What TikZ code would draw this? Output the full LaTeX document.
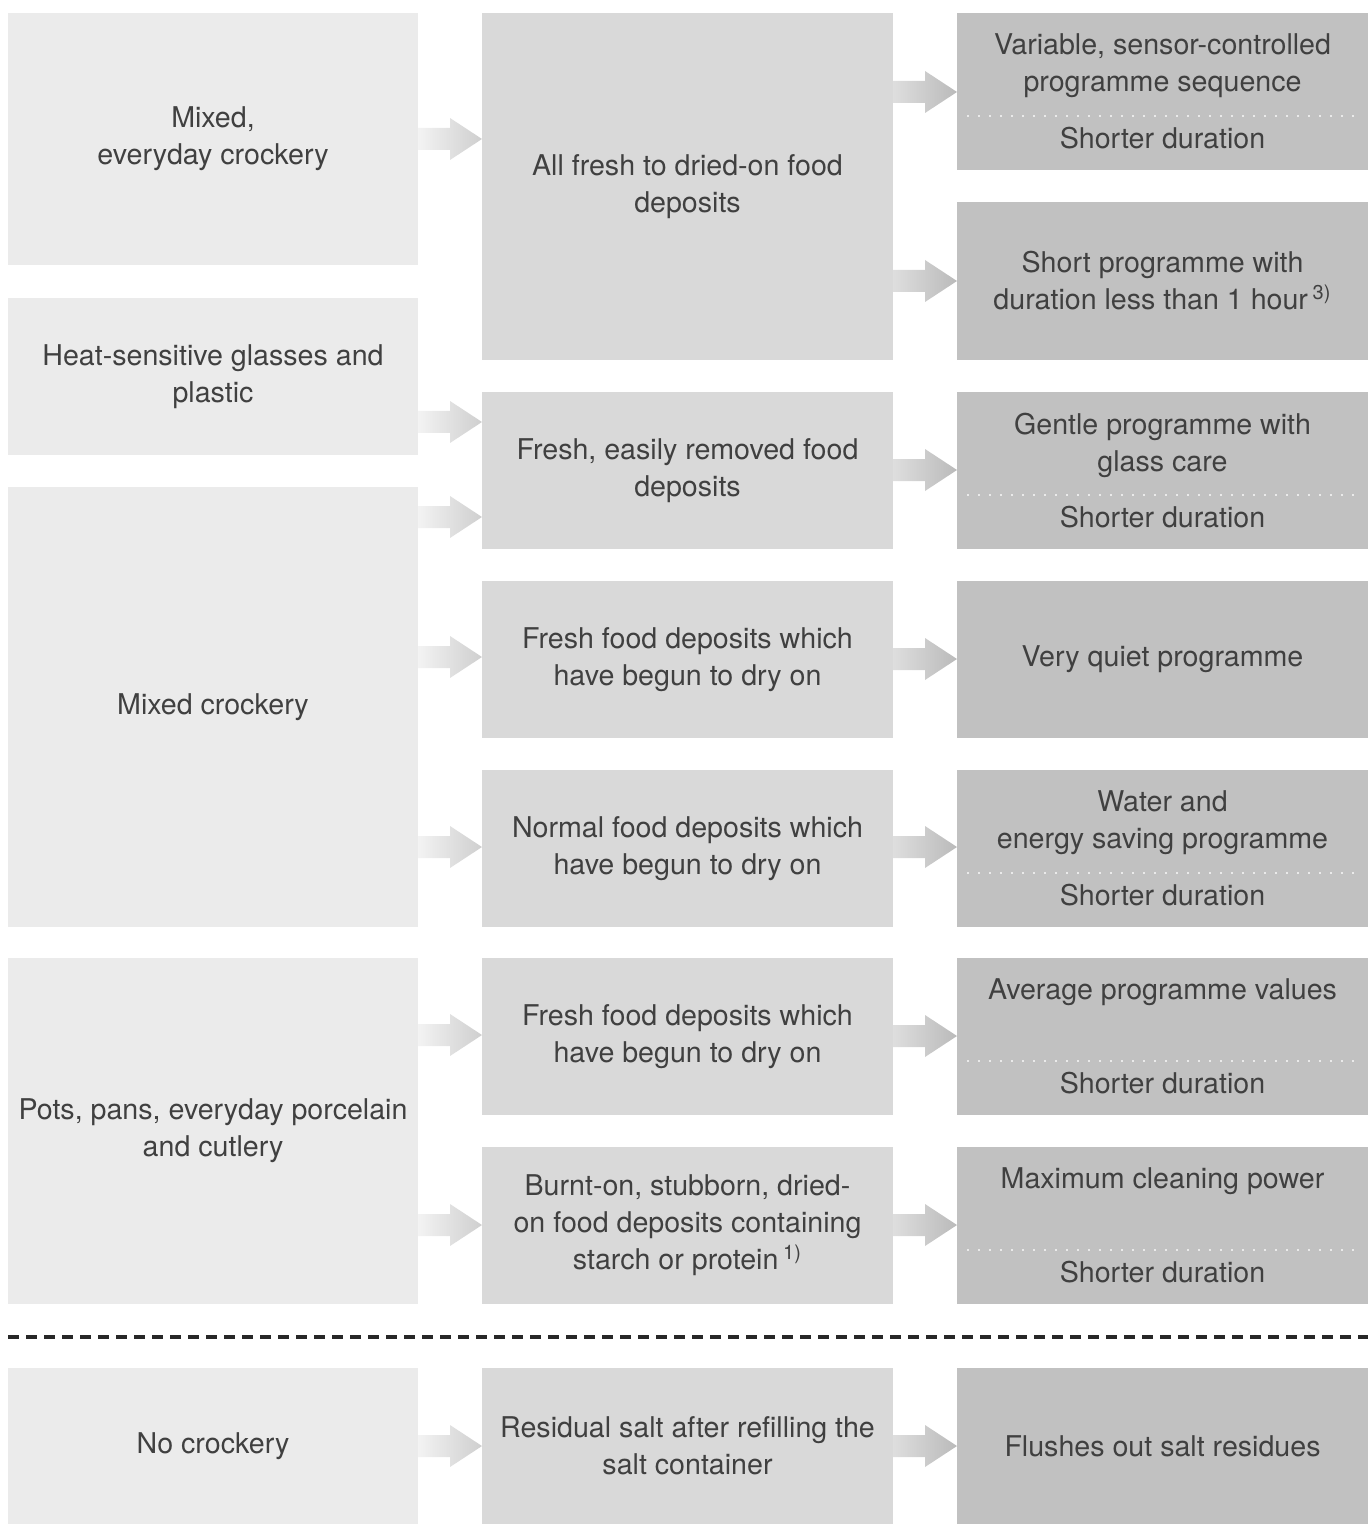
\documentclass[tikz,border=0pt]{standalone}
\usepackage{fontspec}
\setmainfont{TeX Gyre Heros}
\usepackage{tikz}
\usetikzlibrary{calc}
\definecolor{boxone}{RGB}{235,235,235}
\definecolor{boxtwo}{RGB}{217,217,217}
\definecolor{boxthree}{RGB}{193,193,193}
\definecolor{txtgrey}{RGB}{64,64,64}
\definecolor{dotgrey}{RGB}{234,234,234}
\definecolor{sepdark}{RGB}{40,40,40}
\tikzset{
  box/.style={rectangle, anchor=north west, minimum width=205.5pt,
    inner sep=0pt, outer sep=0pt, align=center, text=txtgrey,
    font=\fontsize{14.3}{18.5}\selectfont},
  boxa/.style={box, fill=boxone, minimum width=205pt},
  boxb/.style={box, fill=boxtwo},
  boxc/.style={box, fill=boxthree},
  tall/.style={minimum height=#1*0.5pt},
  txt/.style={align=center, text=txtgrey, inner sep=0pt,
    font=\fontsize{14.3}{18.5}\selectfont},
  sepdots/.style={dotgrey, line width=1pt, dash pattern=on 1.2pt off 4.3pt},
  arrowa/.style={left color=boxone!60!white, right color=black!19},
  arrowb/.style={left color=black!13, right color=black!27},
  divider/.style={sepdark, line width=1.7pt, dash pattern=on 5.5pt off 3.5pt}
}
% block arrow: source node, target node, height, style
\newcommand\blockarrow[4]{%
  \coordinate (s) at (#1.east |- 0,#3);
  \coordinate (t) at (#2.west |- 0,#3);
  \path[#4] ($(s)+(0,-11)$) -- ($(t)+(-32,-11)$) -- ($(t)+(-32,-21)$) -- (t)
    -- ($(t)+(-32,21)$) -- ($(t)+(-32,11)$) -- ($(s)+(0,11)$) -- cycle;}
\begin{document}
\begin{tikzpicture}[x=0.5pt, y=-0.5pt]
    \useasboundingbox (0,0) rectangle (1371,1529);

    % Crockery
    \node[boxa, tall=252] (mixa) at (8,13) {Mixed,\\everyday crockery};
    \node[boxa, tall=157] (heat) at (8,298) {Heat-sensitive glasses and\\plastic};
    \node[boxa, tall=440] (mixc) at (8,487) {Mixed crockery};
    \node[boxa, tall=346] (pots) at (8,958) {Pots, pans, everyday porcelain\\and cutlery};
    \node[boxa, tall=156] (none) at (8,1368) {No crockery};

    % Food deposits
    \node[boxb, tall=347] (fresha) at (482,13) {All fresh to dried-on food\\deposits};
    \node[boxb, tall=157] (easy) at (482,392) {Fresh, easily removed food\\deposits};
    \node[boxb, tall=157] (begun) at (482,581) {Fresh food deposits which\\have begun to dry on};
    \node[boxb, tall=157] (normal) at (482,770) {Normal food deposits which\\have begun to dry on};
    \node[boxb, tall=157] (begunb) at (482,958) {Fresh food deposits which\\have begun to dry on};
    \node[boxb, tall=157] (burnt) at (482,1147) {Burnt-on, stubborn, dried-\\on food deposits containing\\starch or protein\,\textsuperscript{1)}};
    \node[boxb, tall=156] (salt) at (482,1368) {Residual salt after refilling the\\salt container};

    % Programmes
    \node[boxc, tall=157] (sensor) at (957,13) {};
    \node[boxc, tall=158] (short) at (957,202) {Short programme with\\duration less than 1 hour\,\textsuperscript{3)}};
    \node[boxc, tall=157] (gentle) at (957,392) {};
    \node[boxc, tall=157] (quiet) at (957,581) {Very quiet programme};
    \node[boxc, tall=157] (saving) at (957,770) {};
    \node[boxc, tall=157] (average) at (957,958) {};
    \node[boxc, tall=157] (maximum) at (957,1147) {};
    \node[boxc, tall=156] (flush) at (957,1368) {Flushes out salt residues};

    % Split programme boxes
    \foreach \b/\top in {sensor/{Variable, sensor-controlled\\programme sequence},
        gentle/{Gentle programme with\\glass care},
        saving/{Water and\\energy saving programme}} {
      \node[txt] at ($(\b.north)+(0,53)$) {\top};
    }
    \node[txt] at ($(average.north)+(0,34)$) {Average programme values};
    \node[txt] at ($(maximum.north)+(0,34)$) {Maximum cleaning power};
    \foreach \b in {sensor, gentle, saving, average, maximum} {
      \draw[sepdots] ($(\b.north west)+(10,103)$) -- ($(\b.north east)+(-8,103)$);
      \node[txt] at ($(\b.north)+(0,125)$) {Shorter duration};
    }

    % Arrows
    \blockarrow{mixa}{fresha}{139}{arrowa}
    \blockarrow{heat}{easy}{422}{arrowa}
    \blockarrow{mixc}{easy}{517}{arrowa}
    \blockarrow{mixc}{begun}{657}{arrowa}
    \blockarrow{mixc}{normal}{847}{arrowa}
    \blockarrow{pots}{begunb}{1035}{arrowa}
    \blockarrow{pots}{burnt}{1225}{arrowa}
    \blockarrow{none}{salt}{1446}{arrowa}
    \blockarrow{fresha}{sensor}{92}{arrowb}
    \blockarrow{fresha}{short}{281}{arrowb}
    \blockarrow{easy}{gentle}{470}{arrowb}
    \blockarrow{begun}{quiet}{659}{arrowb}
    \blockarrow{normal}{saving}{847}{arrowb}
    \blockarrow{begunb}{average}{1036}{arrowb}
    \blockarrow{burnt}{maximum}{1225}{arrowb}
    \blockarrow{salt}{flush}{1446}{arrowb}

    % Divider
    \coordinate (dl) at (8,1337);
    \coordinate (dr) at (1368,1337);
    \draw[divider] (dl) -- (dr);
\end{tikzpicture}
\end{document}
